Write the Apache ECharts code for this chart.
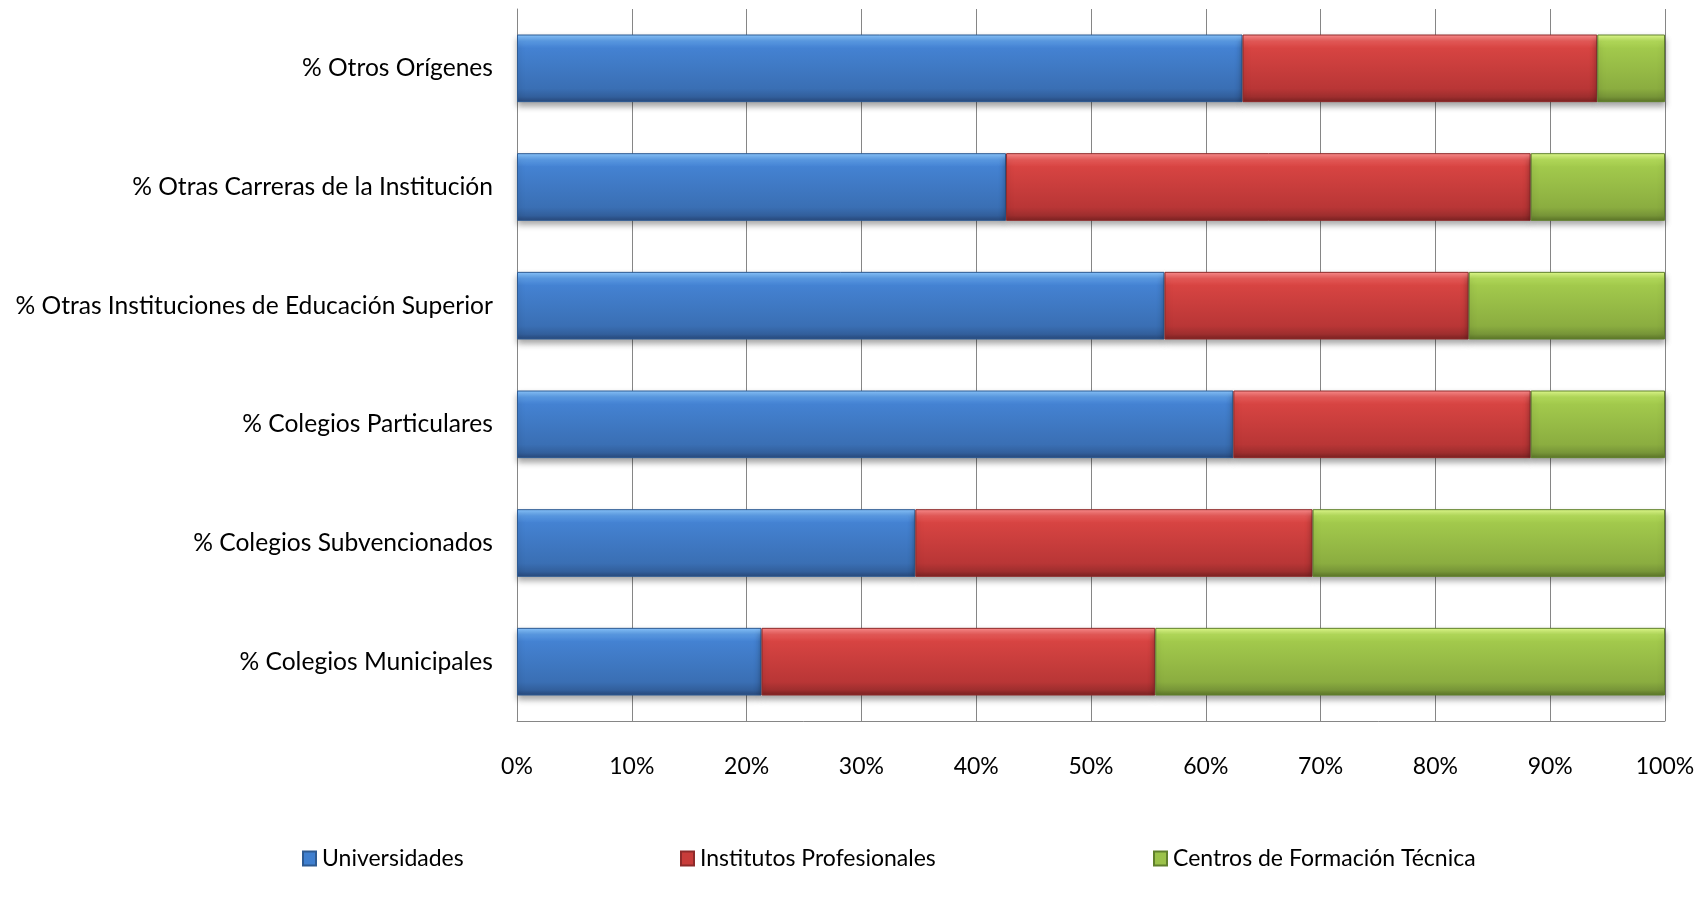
<!DOCTYPE html>
<html><head><meta charset="utf-8">
<script src="https://cdn.jsdelivr.net/npm/echarts@6/dist/echarts.min.js"></script>
<style>html,body{margin:0;padding:0;background:#fff}#c{width:1706px;height:901px}</style>
</head><body><div id="c"></div>
<script>
const categories = ['% Colegios Municipales','% Colegios Subvencionados','% Colegios Particulares','% Otras Instituciones de Educación Superior','% Otras Carreras de la Institución','% Otros Orígenes'];
const universidades = [21.3, 34.7, 62.4, 56.4, 42.6, 63.2];
const institutos = [34.3, 34.6, 25.9, 26.5, 45.7, 30.9];
const centros = [44.4, 30.7, 11.7, 17.1, 11.7, 5.9];
const seriesNames = ['Universidades','Institutos Profesionales','Centros de Formación Técnica'];
const xTicks = [0,10,20,30,40,50,60,70,80,90,100];

const FONT = 'Lato';
function grad(stops){return {type:'linear',x:0,y:0,x2:0,y2:1,colorStops:stops.map((c,i)=>({offset:c[0],color:c[1]}))};}
const fills = [
  grad([[0,'#8cc8ff'],[0.1,'#5a9be6'],[0.2,'#4482d2'],[0.8,'#3a6fb4'],[0.92,'#325f9c'],[1,'#28487a']]),
  grad([[0,'#ff9090'],[0.1,'#e85a58'],[0.2,'#d74442'],[0.8,'#b93636'],[0.92,'#9e2e2e'],[1,'#7a2222']]),
  grad([[0,'#e4ff90'],[0.1,'#b4dc5a'],[0.2,'#a2c94c'],[0.8,'#8bad40'],[0.92,'#779538'],[1,'#5b7428']])
];
const borders = ['#2d5a92','#8e2a2a','#60802c'];
const legendColors = ['#3f7fcf','#c83c3a','#9bc24a'];
const dataSets = [universidades, institutos, centros];

const series = dataSets.map((d,i)=>({
  name: seriesNames[i], type:'bar', stack:'total', data:d,
  barCategoryGap:'43%',
  itemStyle:{color:fills[i], borderColor:borders[i], borderWidth:1,
    shadowColor:'rgba(0,0,0,0.35)', shadowBlur:6, shadowOffsetY:4, shadowOffsetX:0},
  emphasis:{disabled:true}
}));

const legendLefts = [297, 675, 1148];
const legends = seriesNames.map((n,i)=>({
  data:[{name:n, itemStyle:{color:legendColors[i]}}], left:legendLefts[i], top:842,
  itemWidth:13, itemHeight:14, itemGap:4, icon:'rect',
  textStyle:{fontFamily:FONT, fontSize:23, color:'#000', padding:[0,0,0,1]}
}));

const chart = echarts.init(document.getElementById('c'), null, {renderer:'canvas'});
chart.setOption({
  animation:false,
  backgroundColor:'#fff',
  grid:{left:517, right:41, top:9, bottom:180, containLabel:false},
  legend: legends,
  xAxis:{type:'value', min:0, max:100, interval:10,
    axisLine:{show:true, lineStyle:{color:'#868686', width:1}},
    axisTick:{show:false},
    splitLine:{show:true, lineStyle:{color:'#868686', width:1}},
    axisLabel:{formatter:v=>v+'%', fontFamily:FONT, fontSize:23, color:'#000', margin:34}
  },
  yAxis:{type:'category', data:categories,
    axisLine:{show:true, lineStyle:{color:'#868686', width:1}},
    axisTick:{show:false},
    axisLabel:{fontFamily:FONT, fontSize:24.6, color:'#000', margin:24}
  },
  series: series
});
</script></body></html>
